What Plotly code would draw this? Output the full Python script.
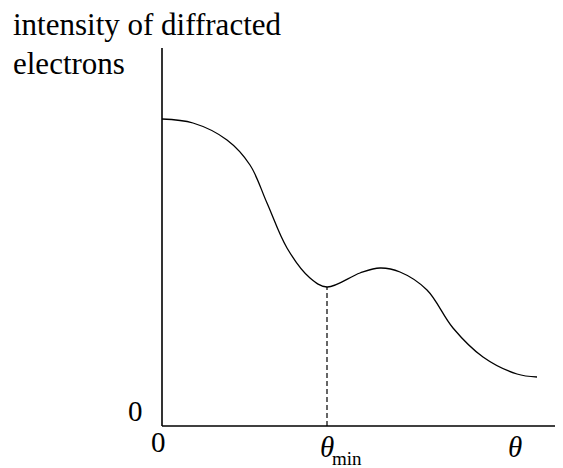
import plotly.graph_objects as go

# Curve (arbitrary units: theta, intensity)
theta = [0, 7.75, 16.25, 22, 26.25, 31.25, 37, 41.25, 49.5, 54.5, 59.5,
         66.25, 72.75, 80.25, 88.75, 93.75]
intensity = [76.75, 75.75, 71.5, 65.25, 55.75, 44.5, 37, 34.75, 38.25, 39.5, 38.5,
             34, 24.5, 17.25, 13, 12.25]
theta_min = 41.25
intensity_at_min = 34.75
y_axis_top = 94.5

W, H = 563, 468
OFF = 8  # page body margin
X0, Y0, S = 162, 426, 4.0  # window pixel of origin and pixels per unit


def px2x(px):
    return (px - X0) / S


def py2y(py):
    return (Y0 - py) / S


FONT = "Liberation Serif, Times New Roman, serif"

fig = go.Figure()
fig.add_trace(go.Scatter(x=theta, y=intensity, mode="lines",
                         line=dict(color="black", width=1.3, shape="spline", smoothing=1.0),
                         hoverinfo="skip", showlegend=False))

shapes = [
    dict(type="line", x0=0, y0=0, x1=0, y1=y_axis_top, line=dict(color="black", width=1.6)),
    dict(type="line", x0=0, y0=0, x1=px2x(W + 2), y1=0, line=dict(color="black", width=1.6)),
    dict(type="line", x0=theta_min, y0=0, x1=theta_min, y1=intensity_at_min,
         line=dict(color="black", width=1.2, dash="5px,3px")),
]

annotations = [
    dict(x=px2x(11), y=py2y(24), text="intensity of diffracted", xanchor="left", yanchor="middle",
         font=dict(family=FONT, size=31, color="black")),
    dict(x=px2x(11), y=py2y(63), text="electrons", xanchor="left", yanchor="middle",
         font=dict(family=FONT, size=31, color="black")),
    dict(x=px2x(135), y=py2y(411), text="0", xanchor="center", yanchor="middle",
         font=dict(family=FONT, size=29, color="black")),
    dict(x=px2x(158), y=py2y(442), text="0", xanchor="center", yanchor="middle",
         font=dict(family=FONT, size=29, color="black")),
    dict(x=theta_min, y=py2y(447), text="<i>θ</i>", xanchor="center", yanchor="middle",
         font=dict(family=FONT, size=29, color="black")),
    dict(x=px2x(347), y=py2y(458), text="min", xanchor="center", yanchor="middle",
         font=dict(family=FONT, size=19, color="black")),
    dict(x=px2x(515), y=py2y(447), text="<i>θ</i>", xanchor="center", yanchor="middle",
         font=dict(family=FONT, size=29, color="black")),
]
for a in annotations:
    a["showarrow"] = False
    a["xref"] = "x"
    a["yref"] = "y"

fig.update_layout(
    width=W - OFF, height=H - OFF, margin=dict(l=0, r=0, t=0, b=0),
    paper_bgcolor="white", plot_bgcolor="white",
    xaxis=dict(range=[px2x(OFF), px2x(W)], visible=False, fixedrange=True),
    yaxis=dict(range=[py2y(H), py2y(OFF)], visible=False, fixedrange=True),
    shapes=shapes, annotations=annotations, showlegend=False,
)

fig.write_html("out.html")
